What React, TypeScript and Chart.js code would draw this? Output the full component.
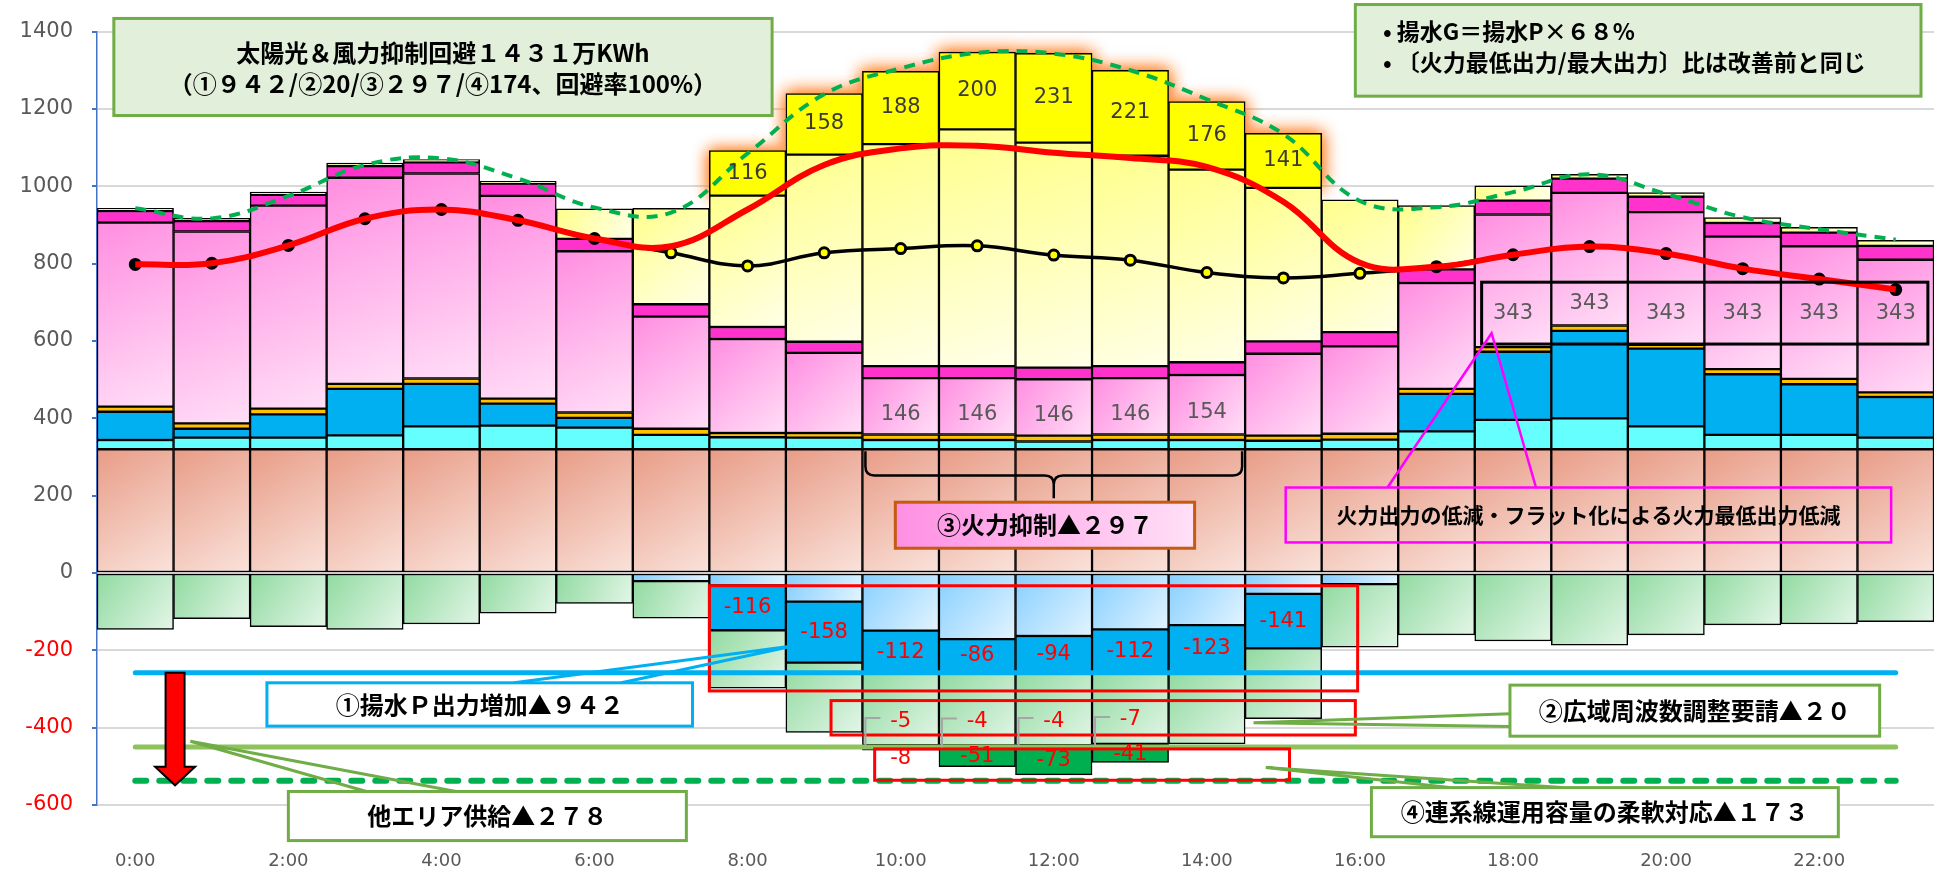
import React, { useEffect, useRef } from "react";
import { Chart, registerables } from "chart.js";

Chart.register(...registerables);

// ---- hourly categories ----
const hourLabels = [
  "0:00", "1:00", "2:00", "3:00", "4:00", "5:00", "6:00", "7:00",
  "8:00", "9:00", "10:00", "11:00", "12:00", "13:00", "14:00", "15:00",
  "16:00", "17:00", "18:00", "19:00", "20:00", "21:00", "22:00", "23:00",
];

// ---- supply stack, bottom to top (万kW) ----
const baseLoad = [320, 320, 320, 320, 320, 320, 320, 320, 320, 320, 320, 320, 320, 320, 320, 320, 320, 320, 320, 320, 320, 320, 320, 320];
const hydro = [24, 30, 30, 36, 59, 61, 56, 37, 31, 30, 24, 24, 20, 24, 24, 22, 25, 46, 76, 80, 59, 37, 37, 30];
const pumpedGen = [73, 23, 60, 120, 110, 57, 25, 0, 0, 0, 0, 0, 0, 0, 0, 0, 0, 97, 176, 226, 201, 157, 131, 105];
const otherGen = [13, 14, 15, 13, 14, 13, 14, 16, 11, 12, 14, 14, 15, 14, 14, 13, 15, 13, 12, 14, 10, 13, 14, 12];
const thermalMin = [476, 496, 525, 533, 530, 524, 417, 290, 243, 207, 146, 146, 146, 146, 154, 212, 226, 274, 343, 343, 343, 343, 343, 343];
const thermalFlex = [30, 27, 28, 30, 29, 32, 32, 32, 31, 29, 31, 31, 30, 31, 33, 32, 37, 35, 36, 37, 40, 35, 35, 36];
const solarWind = [7, 7, 7, 8, 7, 6, 78, 248, 340, 484, 574, 612, 582, 544, 498, 397, 342, 165, 38, 11, 11, 14, 14, 14];
const avoidedCurtail = [0, 0, 0, 0, 0, 0, 0, 0, 116, 158, 188, 200, 231, 221, 176, 141, 0, 0, 0, 0, 0, 0, 0, 0];

// ---- downward stack, top to bottom ----
const pumpBase = [0, 0, 0, 0, 0, 0, 0, -21, -32, -74, -149, -171, -163, -146, -135, -54, -29, 0, 0, 0, 0, 0, 0, 0];
const pumpAdded = [0, 0, 0, 0, 0, 0, 0, 0, -116, -158, -112, -86, -94, -112, -123, -141, 0, 0, 0, 0, 0, 0, 0, 0];
const interAreaFlow = [-146, -118, -139, -146, -132, -104, -79, -96, -150, -180, -184, -189, -188, -184, -184, -182, -163, -160, -176, -187, -160, -134, -132, -126];
const freqRegulation = [0, 0, 0, 0, 0, 0, 0, 0, 0, 0, -5, -4, -4, -7, 0, 0, 0, 0, 0, 0, 0, 0, 0, 0];
const lineCapacity = [0, 0, 0, 0, 0, 0, 0, 0, 0, 0, -8, -51, -73, -41, 0, 0, 0, 0, 0, 0, 0, 0, 0, 0];

// ---- demand / capacity curves ----
const demandBefore = [798, 801, 847, 916, 940, 912, 865, 845, 940, 1055, 1098, 1105, 1087, 1073, 1050, 960, 802, 792, 823, 844, 826, 787, 760, 733];
const demandAfter = [798, 801, 847, 916, 940, 912, 865, 828, 794, 828, 839, 846, 822, 809, 777, 763, 775, 792, 823, 844, 826, 787, 760, 733];
const supplyCapacity = [943, 917, 975, 1055, 1072, 1020, 945, 932, 1085, 1238, 1305, 1345, 1343, 1300, 1225, 1135, 962, 946, 985, 1031, 980, 920, 889, 862];

// ---- reference levels ----
const pumpLimit = -258;
const regulationLimit = -450;
const interconnectLimit = -537;

// hours whose thermal block carries a value label
const thermalLabelHours = [10, 11, 12, 13, 14, 18, 19, 20, 21, 22, 23];

const FONT_NUM = '"DejaVu Sans", "Liberation Sans", sans-serif';
const FONT_JP = '"Noto Sans CJK JP", "Noto Sans", sans-serif';

const AVOIDED_DS = 7;

type Ctx = any;

// start / end value of a stacked bar segment
function stackRange(chart: any, dsIndex: number, i: number): [number, number] {
  const sets = chart.data.datasets;
  const v = (sets[dsIndex].data[i] ?? 0) as number;
  let start = 0;
  for (let k = 0; k < dsIndex; k++) {
    if (sets[k].type !== "bar") continue;
    const w = (sets[k].data[i] ?? 0) as number;
    if ((v >= 0 && w > 0) || (v < 0 && w < 0)) start += w;
  }
  return [start, start + v];
}

function diagonalFill(c1: string, c2: string) {
  return (ctx: Ctx) => {
    if (ctx.type !== "data") return c1;
    const chart = ctx.chart;
    const xs = chart.scales?.x;
    const ys = chart.scales?.y;
    if (!xs || !ys) return c1;
    const [a, b] = stackRange(chart, ctx.datasetIndex, ctx.dataIndex);
    const half = (xs.getPixelForValue(1) - xs.getPixelForValue(0)) / 2;
    const xc = xs.getPixelForValue(ctx.dataIndex);
    const yTop = ys.getPixelForValue(Math.max(a, b));
    const yBot = ys.getPixelForValue(Math.min(a, b));
    const pts = [xc - half, yTop, xc + half, yBot];
    if (!pts.every((p) => Number.isFinite(p)) || half <= 0) return c1;
    const g = chart.ctx.createLinearGradient(xc - half, yTop, xc + half, yBot + 1);
    g.addColorStop(0, c1);
    g.addColorStop(1, c2);
    return g;
  };
}

function barSet(label: string, data: number[], fill: any) {
  return {
    type: "bar" as const,
    label,
    data,
    backgroundColor: fill,
    borderColor: "#000000",
    borderWidth: 1.5,
    borderSkipped: false,
    barPercentage: 1,
    categoryPercentage: 1,
    order: 10,
  };
}

// orange halo behind the avoided-curtailment blocks
const glowPlugin = {
  id: "avoidedGlow",
  beforeDatasetDraw(chart: any, args: any) {
    if (args.index !== AVOIDED_DS) return;
    const ctx = chart.ctx;
    ctx.save();
    ctx.shadowColor = "rgba(255, 125, 30, 0.95)";
    ctx.shadowBlur = 16;
    ctx.fillStyle = "#FFFF00";
    args.meta.data.forEach((el: any, i: number) => {
      const v = chart.data.datasets[AVOIDED_DS].data[i];
      if (!v) return;
      const { x, y, base, width } = el.getProps(["x", "y", "base", "width"], true);
      ctx.fillRect(x - width / 2, y, width, base - y);
      ctx.fillRect(x - width / 2, y, width, base - y);
    });
    ctx.restore();
  },
};

// boxes, callouts, reference lines and value labels
const overlayPlugin = {
  id: "overlay",
  afterDatasetsDraw(chart: any) {
    const ctx = chart.ctx as CanvasRenderingContext2D;
    const xs = chart.scales.x;
    const ys = chart.scales.y;
    const X = (v: number) => xs.getPixelForValue(v);
    const Y = (v: number) => ys.getPixelForValue(v);

    const box = (x0: number, y0: number, x1: number, y1: number, stroke: string, lw: number, fill?: any) => {
      const l = X(x0), r = X(x1), t = Y(y0), b = Y(y1);
      if (fill) {
        ctx.fillStyle = fill;
        ctx.fillRect(l, t, r - l, b - t);
      }
      ctx.strokeStyle = stroke;
      ctx.lineWidth = lw;
      ctx.strokeRect(l, t, r - l, b - t);
    };
    const segs = (pts: [number, number][], stroke: string, lw: number) => {
      ctx.beginPath();
      pts.forEach(([a, b], k) => (k === 0 ? ctx.moveTo(X(a), Y(b)) : ctx.lineTo(X(a), Y(b))));
      ctx.strokeStyle = stroke;
      ctx.lineWidth = lw;
      ctx.stroke();
    };
    const text = (s: string, x: number, y: number, font: string, color: string, align: CanvasTextAlign = "center") => {
      ctx.font = font;
      ctx.fillStyle = color;
      ctx.textAlign = align;
      ctx.textBaseline = "middle";
      ctx.fillText(s, x, y);
    };
    const callout = (apex: [number, number], a: [number, number], b: [number, number], stroke: string) => {
      ctx.lineJoin = "miter";
      segs([a, apex, b], stroke, 3);
    };

    ctx.save();
    ctx.lineCap = "butt";

    // reference levels
    const level = (v: number, color: string, lw: number, dash: number[], cap: CanvasLineCap) => {
      ctx.save();
      ctx.beginPath();
      ctx.setLineDash(dash);
      ctx.lineCap = cap;
      ctx.moveTo(X(0), Y(v));
      ctx.lineTo(X(23), Y(v));
      ctx.strokeStyle = color;
      ctx.lineWidth = lw;
      ctx.stroke();
      ctx.restore();
    };
    level(pumpLimit, "#00B0F0", 5, [], "round");
    level(regulationLimit, "#8DC25C", 5, [], "round");
    level(interconnectLimit, "#00B050", 6, [11, 13], "round");

    // downward arrow
    {
      const xc = X(0.52);
      const yT = Y(pumpLimit);
      const yH = Y(-501);
      const yTip = Y(-549);
      ctx.beginPath();
      ctx.moveTo(xc - 9.5, yT);
      ctx.lineTo(xc + 9.5, yT);
      ctx.lineTo(xc + 9.5, yH);
      ctx.lineTo(xc + 20, yH);
      ctx.lineTo(xc, yTip);
      ctx.lineTo(xc - 20, yH);
      ctx.lineTo(xc - 9.5, yH);
      ctx.closePath();
      ctx.fillStyle = "#FF0000";
      ctx.fill();
      ctx.strokeStyle = "#000000";
      ctx.lineWidth = 2;
      ctx.lineJoin = "miter";
      ctx.stroke();
    }

    // summary box
    box(-0.28, 1434, 8.32, 1183, "#70AD47", 3, "#E2EFDA");
    text("太陽光＆風力抑制回避１４３１万KWh", X(4.02), Y(1345), `bold 24px ${FONT_JP}`, "#000");
    text("（①９４２/②20/③２９７/④174、回避率100%）", X(4.02), Y(1266), `bold 24px ${FONT_JP}`, "#000");

    // notes box
    box(15.94, 1470, 23.33, 1233, "#70AD47", 3, "#E2EFDA");
    text("• 揚水G＝揚水P×６８%", X(16.3), Y(1401), `bold 23px ${FONT_JP}`, "#000", "left");
    text("• 〔火力最低出力/最大出力〕比は改善前と同じ", X(16.3), Y(1320), `bold 23px ${FONT_JP}`, "#000", "left");

    // brace over the thermal reduction hours
    {
      const xL = X(9.5) + 3, xR = X(14.5) - 3, xc = X(12);
      const yT = Y(315), yM = Y(252), yTip = Y(193), r = 9;
      ctx.beginPath();
      ctx.moveTo(xL, yT);
      ctx.lineTo(xL, yM - r);
      ctx.quadraticCurveTo(xL, yM, xL + r, yM);
      ctx.lineTo(xc - r, yM);
      ctx.quadraticCurveTo(xc, yM, xc, yM + r);
      ctx.lineTo(xc, yTip);
      ctx.moveTo(xc, yM + r);
      ctx.quadraticCurveTo(xc, yM, xc + r, yM);
      ctx.lineTo(xR - r, yM);
      ctx.quadraticCurveTo(xR, yM, xR, yM - r);
      ctx.lineTo(xR, yT);
      ctx.strokeStyle = "#000";
      ctx.lineWidth = 2.5;
      ctx.stroke();
    }

    // ③ box
    {
      const l = X(9.93), r = X(13.84);
      const g = ctx.createLinearGradient(l, 0, r, 0);
      g.addColorStop(0, "#FF8FE3");
      g.addColorStop(1, "#FFE0F7");
      box(9.93, 183, 13.84, 64, "#C55A11", 3, g);
      text("③火力抑制▲２９７", X(11.885), Y(123.5), `bold 24px ${FONT_JP}`, "#000");
    }

    // thermal minimum frame and its explanation
    box(17.59, 752, 23.42, 592, "#000000", 3);
    segs([[16.36, 221], [17.72, 620], [18.3, 221]], "#FF00FF", 2.5);
    box(15.03, 221, 22.94, 79, "#FF00FF", 2.5);
    text("火力出力の低減・フラット化による火力最低出力低減", X(18.985), Y(150), `bold 21px ${FONT_JP}`, "#000");

    // red frames in the lower half
    box(7.5, -33, 15.97, -305, "#FF0000", 3);
    box(9.09, -330, 15.94, -419, "#FF0000", 3);
    box(9.66, -455, 15.08, -536, "#FF0000", 3);

    // ① callout
    callout([8.61, -188], [4.95, -284], [6.35, -284], "#00B0F0");
    box(1.72, -284, 7.28, -396, "#00B0F0", 3, "#FFFFFF");
    text("①揚水Ｐ出力増加▲９４２", X(4.5), Y(-340), `bold 24px ${FONT_JP}`, "#000");

    // ② callout
    callout([14.61, -387], [17.96, -364], [17.96, -397], "#70AD47");
    box(17.96, -290, 22.79, -422, "#70AD47", 3, "#FFFFFF");
    text("②広域周波数調整要請▲２０", X(20.375), Y(-356), `bold 24px ${FONT_JP}`, "#000");

    // ④ callout
    callout([14.77, -503], [17.17, -555], [18.64, -555], "#70AD47");
    box(16.15, -555, 22.25, -682, "#70AD47", 3, "#FFFFFF");
    text("④連系線運用容量の柔軟対応▲１７３", X(19.2), Y(-618), `bold 24px ${FONT_JP}`, "#000");

    // other-area supply callout
    callout([0.72, -435], [3.02, -565], [4.19, -565], "#70AD47");
    box(2.0, -565, 7.2, -692, "#70AD47", 3, "#FFFFFF");
    text("他エリア供給▲２７８", X(4.6), Y(-628), `bold 24px ${FONT_JP}`, "#000");

    // ---- value labels ----
    const numFont = `21px ${FONT_NUM}`;
    const metaOf = (idx: number) => chart.getDatasetMeta(idx).data;
    const dsIndex = (label: string) => chart.data.datasets.findIndex((d: any) => d.label === label);

    // avoided curtailment
    {
      const k = dsIndex("avoided");
      metaOf(k).forEach((el: any, i: number) => {
        const v = avoidedCurtail[i];
        if (!v) return;
        text(String(v), el.x, (el.y + el.base) / 2, numFont, "#3A3A3A");
      });
    }
    // thermal minimum
    {
      const k = dsIndex("thermalMin");
      metaOf(k).forEach((el: any, i: number) => {
        if (!thermalLabelHours.includes(i)) return;
        const [a, b] = stackRange(chart, k, i);
        let y: number;
        if (thermalMin[i] >= 300) {
          const lo = Math.max(a, 592), hi = Math.min(b, 752);
          y = Y((lo + hi) / 2);
        } else {
          y = (el.y + el.base) / 2 + 8;
        }
        text(String(thermalMin[i]), el.x, y, numFont, "#595959");
      });
    }
    // added pumping
    {
      const k = dsIndex("pumpAdded");
      metaOf(k).forEach((el: any, i: number) => {
        const v = pumpAdded[i];
        if (!v) return;
        text(String(v), el.x, (el.y + el.base) / 2, numFont, "#FF0000");
      });
    }
    // frequency regulation with small leader
    {
      const k = dsIndex("regulation");
      const half = (X(1) - X(0)) / 2;
      metaOf(k).forEach((el: any, i: number) => {
        const v = freqRegulation[i];
        if (!v) return;
        const [a] = stackRange(chart, k, i);
        const ly = Y(a + 62);
        const left = el.x - half + 3;
        ctx.beginPath();
        ctx.moveTo(left + 15, ly - 3);
        ctx.lineTo(left, ly - 3);
        ctx.lineTo(left, Y(a) + 2);
        ctx.strokeStyle = "#A6A6A6";
        ctx.lineWidth = 2;
        ctx.stroke();
        text(String(v), el.x, ly, numFont, "#FF0000");
      });
    }
    // interconnection capacity
    {
      const k = dsIndex("lineCapacity");
      metaOf(k).forEach((el: any, i: number) => {
        const v = lineCapacity[i];
        if (!v) return;
        const [, b] = stackRange(chart, k, i);
        const y = Math.abs(v) < 20 ? Y(b - 22) : (el.y + el.base) / 2;
        text(String(v), el.x, y, numFont, "#FF0000");
      });
    }

    ctx.restore();
  },
};

// markers: black where the improved curve coincides with the original one
const afterMarkerFill = demandAfter.map((v, i) => (v === demandBefore[i] ? "#000000" : "#FFFF00"));

export default function App() {
  const ref = useRef<HTMLCanvasElement | null>(null);

  useEffect(() => {
    const canvas = ref.current;
    if (!canvas) return;

    const chart = new Chart(canvas, {
      type: "bar",
      data: {
        labels: hourLabels,
        datasets: [
          barSet("base", baseLoad, diagonalFill("#E89C86", "#FAE3DC")),
          barSet("hydro", hydro, "#66FFFF"),
          barSet("pumpedGen", pumpedGen, "#00B0F0"),
          barSet("other", otherGen, "#FFC000"),
          barSet("thermalMin", thermalMin, diagonalFill("#FF8EE1", "#FFDFF7")),
          barSet("thermalFlex", thermalFlex, "#FF33CC"),
          barSet("solarWind", solarWind, diagonalFill("#FFFF8C", "#FFFFE8")),
          barSet("avoided", avoidedCurtail, "#FFFF00"),
          barSet("pumpBase", pumpBase, diagonalFill("#86CFFF", "#E3F4FF")),
          barSet("pumpAdded", pumpAdded, "#00B0F0"),
          barSet("interArea", interAreaFlow, diagonalFill("#90DAA0", "#E4F6E8")),
          barSet("regulation", freqRegulation, diagonalFill("#B5E6BF", "#E4F6E8")),
          barSet("lineCapacity", lineCapacity, "#00B050"),
          {
            type: "line" as const,
            label: "demandBefore",
            data: demandBefore,
            stack: "demandBefore",
            borderColor: "#FF0000",
            borderWidth: 6,
            tension: 0.4,
            pointRadius: 0,
            order: 1,
          },
          {
            type: "line" as const,
            label: "demandAfter",
            data: demandAfter,
            stack: "demandAfter",
            borderColor: "#000000",
            borderWidth: 3.5,
            tension: 0.4,
            pointRadius: 5,
            pointBorderWidth: 3,
            pointBackgroundColor: afterMarkerFill,
            pointBorderColor: "#000000",
            order: 2,
          },
          {
            type: "line" as const,
            label: "capacity",
            data: supplyCapacity,
            stack: "capacity",
            borderColor: "#00B050",
            borderWidth: 4,
            borderDash: [11, 8],
            tension: 0.4,
            pointRadius: 0,
            order: 3,
          },
        ] as any,
      },
      options: {
        animation: false,
        responsive: false,
        devicePixelRatio: 1,
        events: [],
        layout: { padding: { top: 19, right: 14, bottom: 0, left: 0 } },
        plugins: {
          legend: { display: false },
          tooltip: { enabled: false },
        },
        scales: {
          x: {
            stacked: true,
            offset: true,
            grid: { display: false, drawTicks: false },
            border: { display: false },
            ticks: {
              autoSkip: false,
              maxRotation: 0,
              minRotation: 0,
              padding: 46,
              color: "#595959",
              font: { family: FONT_NUM, size: 18 },
              callback: (_v: any, i: number) => (i % 2 === 0 ? hourLabels[i] : ""),
            },
            afterFit: (s: any) => {
              s.height = 75;
            },
          },
          y: {
            stacked: true,
            min: -600,
            max: 1400,
            ticks: {
              stepSize: 200,
              padding: 19,
              color: (c: any) => (c.tick && c.tick.value < 0 ? "#FF0000" : "#595959"),
              font: { family: FONT_NUM, size: 21 },
              callback: (v: any) => String(v),
            },
            grid: { color: "#D9D9D9", lineWidth: 2, tickColor: "#4472C4", tickLength: 5, drawTicks: true },
            border: { color: "#4472C4", width: 1.5 },
            afterFit: (s: any) => {
              s.width = 97;
            },
          },
        },
      } as any,
      plugins: [glowPlugin, overlayPlugin],
    });

    return () => chart.destroy();
  }, []);

  return (
    <div style={{ position: "fixed", left: 0, top: 0, width: 1948, height: 880, background: "#ffffff" }}>
      <canvas ref={ref} width={1948} height={880} style={{ width: "1948px", height: "880px", display: "block" }} />
    </div>
  );
}
